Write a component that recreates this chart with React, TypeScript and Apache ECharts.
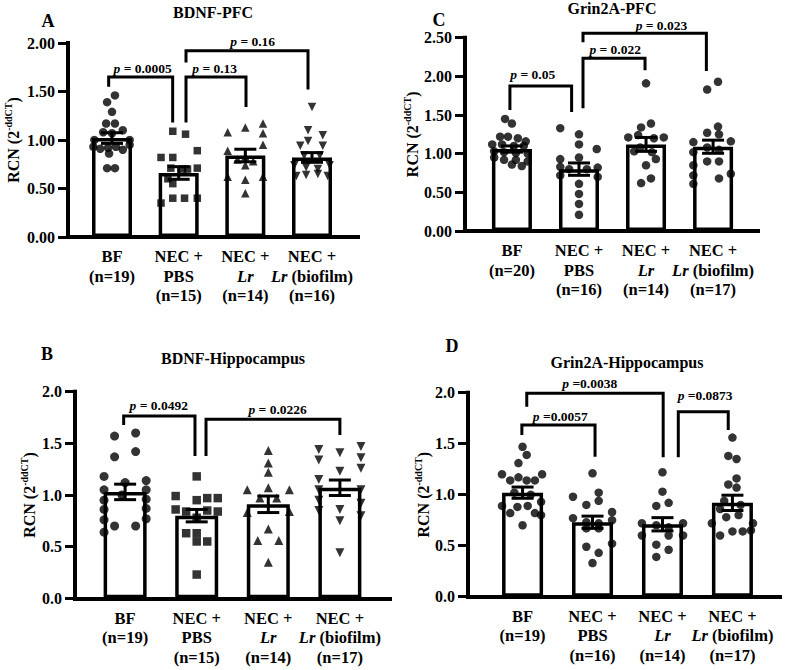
import React, { useEffect, useRef } from "react";
import * as echarts from "echarts";

const FONT = '"Liberation Serif", "Times New Roman", Times, serif';

// ---------------- DATA ----------------
// x-axis group labels (index 0..3)
const groupNames = ["BF", "NEC + PBS", "NEC + Lr", "NEC + Lr (biofilm)"];
const yTicksTwoDec = ["0.00", "0.50", "1.00", "1.50", "2.00", "2.50"];
const yTicksOneDec = ["0.0", "0.5", "1.0", "1.5", "2.0"];

// Panel A: BDNF-PFC
const A_n = [19, 15, 14, 16];
const A_mean = [1.02, 0.66, 0.84, 0.82];
const A_sem = [0.055, 0.065, 0.065, 0.05];
const A_BF = [1.46, 1.39, 1.29, 1.17, 1.17, 1.1, 1.08, 1.07, 1.0, 1.0, 0.93, 0.91, 0.92, 0.93, 0.9, 0.95, 0.86, 0.71, 0.71];
const A_BF_jit = [3, -5, 0, -6, 3, 11, -9, 0, -18, 18, -19, -12, -4, 4, 11, 18, -3, -5, 3];
const A_PBS = [1.09, 1.06, 0.89, 0.82, 0.82, 0.71, 0.7, 0.7, 0.71, 0.6, 0.55, 0.35, 0.4, 0.4, 0.4];
const A_PBS_jit = [-6, 7, 19, -18, -6, -8, 4, 9, 19, -11, -6, -18, -6, 6, 19];
const A_LR = [1.17, 1.13, 1.08, 1.07, 0.95, 0.89, 0.83, 0.78, 0.74, 0.62, 0.62, 0.59, 0.45, 0.8];
const A_LR_jit = [18, 0, -18, 18, 18, -18, 0, 8, 0, -18, 18, 0, 0, -8];
const A_BIO = [1.34, 1.1, 1.05, 0.99, 0.94, 0.94, 0.84, 0.84, 0.74, 0.72, 0.7, 0.74, 0.63, 0.64, 0.65, 0.63];
const A_BIO_jit = [0, -4, 11, -4, -12, 11, -8, 8, -18, -6, 6, 18, -16, -6, 6, 16];
// brackets: [x1, x2, yTop, yLeftEnd, yRightEnd, labelX, labelY]
const A_brackets = [
  [-0.05, 0.91, 1.65, 1.55, 1.18, 0.46, 1.74],
  [1.11, 2.01, 1.65, 1.18, 1.34, 1.54, 1.74],
  [1.11, 2.94, 1.92, 1.8, 1.52, 2.11, 2.02],
];
const A_pLabels = ["p = 0.0005", "p = 0.13", "p = 0.16"];

// Panel B: BDNF-Hippocampus
const B_n = [19, 15, 14, 17];
const B_mean = [1.03, 0.8, 0.91, 1.07];
const B_sem = [0.075, 0.06, 0.08, 0.075];
const B_BF = [1.57, 1.6, 1.37, 1.42, 1.18, 1.14, 1.12, 1.0, 1.05, 1.05, 0.95, 0.96, 0.86, 0.87, 0.76, 0.77, 0.7, 0.7, 0.64];
const B_BF_jit = [-10, 10, -10, 10, -20, 20, 0, -3, -20, 20, -20, 20, -20, 20, -20, 20, -10, 10, -20];
const B_PBS = [1.18, 0.99, 0.95, 0.97, 0.97, 0.86, 0.84, 0.85, 0.84, 0.78, 0.63, 0.63, 0.55, 0.55, 0.23];
const B_PBS_jit = [0, -20, 0, 10, 20, -20, -10, 10, 20, 0, -10, 0, 0, 10, 0];
const B_LR = [1.43, 1.31, 1.22, 1.05, 1.07, 1.05, 0.97, 0.97, 0.83, 0.84, 0.67, 0.56, 0.56, 0.35];
const B_LR_jit = [0, 0, 0, -20, 0, 20, -8, 8, -20, 20, 0, -10, 10, 0];
const B_BIO = [1.44, 1.41, 1.47, 1.34, 1.36, 1.23, 1.26, 1.15, 1.05, 1.05, 0.95, 0.92, 0.85, 0.8, 0.86, 0.75, 0.44];
const B_BIO_jit = [-20, 0, 20, -20, 20, 0, 20, -20, -20, 20, -20, 20, -20, 20, 0, 0, 0];
const B_brackets = [
  [-0.02, 0.976, 1.765, 1.678, 1.378, 0.47, 1.87],
  [1.13, 3.0, 1.733, 1.378, 1.58, 2.13, 1.83],
];
const B_pLabels = ["p = 0.0492", "p = 0.0226"];

// Panel C: Grin2A-PFC
const C_n = [20, 16, 14, 17];
const C_mean = [1.06, 0.8, 1.12, 1.09];
const C_sem = [0.04, 0.08, 0.09, 0.085];
const C_BF = [1.45, 1.39, 1.22, 1.22, 1.2, 1.16, 1.12, 1.12, 1.1, 1.1, 1.03, 1.02, 1.01, 1.0, 0.95, 0.92, 0.92, 0.9, 0.86, 0.84];
const C_BF_jit = [-7, 0, -12, -4, 6, 14, -20, -10, 2, 12, -18, -8, 4, 16, -18, -8, 4, 16, 0, 10];
const C_PBS = [1.33, 1.25, 1.12, 1.06, 0.93, 0.95, 0.83, 0.8, 0.8, 0.82, 0.72, 0.7, 0.61, 0.48, 0.35, 0.21];
const C_PBS_jit = [-19, 0, 0, 18, -19, 0, -19, -10, 8, 19, -19, 19, 0, 0, 0, 0];
const C_LR = [1.91, 1.39, 1.34, 1.21, 1.24, 1.2, 1.21, 1.08, 1.02, 1.03, 0.93, 0.85, 0.68, 0.62];
const C_LR_jit = [0, 5, -5, -18, -8, 8, 18, -6, 6, -12, 10, 0, 5, -5];
const C_BIO = [1.83, 1.93, 1.35, 1.27, 1.25, 1.15, 1.16, 1.08, 1.05, 1.02, 0.9, 0.9, 0.85, 0.74, 0.72, 0.68, 0.61];
const C_BIO_jit = [-6, 5, 5, -6, 6, -20, 18, -6, 6, -20, -6, 6, -20, 18, -20, 6, -20];
const C_brackets = [
  [-0.03, 0.89, 1.876, 1.565, 1.54, 0.31, 2.03],
  [1.06, 1.985, 2.234, 1.587, 2.08, 1.54, 2.35],
  [1.06, 2.9, 2.557, 2.44, 2.07, 2.23, 2.66],
];
const C_pLabels = ["p = 0.05", "p = 0.022", "p = 0.023"];

// Panel D: Grin2A-Hippocampus
const D_n = [19, 16, 14, 17];
const D_mean = [1.02, 0.73, 0.71, 0.92];
const D_sem = [0.055, 0.06, 0.065, 0.075];
const D_BF = [1.47, 1.39, 1.31, 1.2, 1.2, 1.14, 1.17, 1.14, 1.14, 1.02, 1.0, 0.89, 0.88, 0.89, 0.93, 0.82, 0.82, 0.8, 0.7];
const D_BF_jit = [0, 4, -4, -20, 19, -12, -4, 4, 12, -8, 8, -20, -5, 5, 18, -12, 12, 18, 0];
const D_PBS = [1.21, 0.98, 1.02, 0.9, 0.94, 0.83, 0.77, 0.73, 0.72, 0.75, 0.67, 0.67, 0.52, 0.49, 0.43, 0.33];
const D_PBS_jit = [0, -19, 6, -6, 6, 19, -19, -6, 6, 19, -6, 6, 19, -6, 6, 0];
const D_LR = [1.22, 1.03, 0.89, 0.92, 0.72, 0.72, 0.7, 0.68, 0.6, 0.6, 0.6, 0.51, 0.46, 0.39];
const D_LR_jit = [0, 0, -6, 6, -20, 20, -6, 6, -20, 6, 20, -6, 6, -6];
const D_BIO = [1.56, 1.38, 1.35, 1.16, 1.1, 1.07, 0.94, 0.9, 0.86, 0.8, 0.78, 0.72, 0.72, 0.6, 0.64, 0.64, 0.65];
const D_BIO_jit = [0, -4, 4, 4, -4, 4, -8, 8, -12, 6, -6, -20, 20, -12, 0, 10, 18];
const D_brackets = [
  [0.06, 2.01, 1.994, 1.863, 1.367, 0.96, 2.09],
  [-0.01, 1.036, 1.683, 1.585, 1.373, 0.54, 1.77],
  [2.226, 2.94, 1.814, 1.367, 1.634, 2.61, 1.97],
];
const D_pLabels = ["p =0.0038", "p =0.0057", "p =0.0873"];

// ---------------- LAYOUT / STYLE ----------------
const JIT = 68; // jitter offsets are in pixels at ~68 px per group

type Panel = {
  letter: string;
  title: string;
  letterPos: [number, number];
  titlePos: [number, number];
  grid: { left: number; top: number; width: number; height: number };
  xMin: number;
  xMax: number;
  yMax: number;
  ticks: string[];
  nameGap: number;
  barWidth: number;
  n: number[];
  mean: number[];
  sem: number[];
  groups: { y: number[]; j: number[] }[];
  symbols: string[];
  rotate: number[];
  sizes: number[];
  brackets: number[][];
  pLabels: string[];
};

const panels: Panel[] = [
  {
    letter: "A", title: "BDNF-PFC", letterPos: [48, 20.5], titlePos: [213, 12],
    grid: { left: 68, top: 43, width: 290, height: 194 },
    xMin: -0.66, xMax: 3.69, yMax: 2, ticks: yTicksTwoDec, nameGap: 47, barWidth: 40,
    n: A_n, mean: A_mean, sem: A_sem,
    groups: [{ y: A_BF, j: A_BF_jit }, { y: A_PBS, j: A_PBS_jit }, { y: A_LR, j: A_LR_jit }, { y: A_BIO, j: A_BIO_jit }],
    symbols: ["circle", "rect", "triangle", "triangle"], rotate: [0, 0, 0, 180], sizes: [8.5, 7.5, 8.5, 8.5],
    brackets: A_brackets, pLabels: A_pLabels,
  },
  {
    letter: "C", title: "Grin2A-PFC", letterPos: [439, 20], titlePos: [612, 8.5],
    grid: { left: 465, top: 37.7, width: 293, height: 193.3 },
    xMin: -0.7, xMax: 3.67, yMax: 2.5, ticks: yTicksTwoDec, nameGap: 43, barWidth: 40,
    n: C_n, mean: C_mean, sem: C_sem,
    groups: [{ y: C_BF, j: C_BF_jit }, { y: C_PBS, j: C_PBS_jit }, { y: C_LR, j: C_LR_jit }, { y: C_BIO, j: C_BIO_jit }],
    symbols: ["circle", "circle", "circle", "circle"], rotate: [0, 0, 0, 0], sizes: [8.5, 8.5, 8.5, 8.5],
    brackets: C_brackets, pLabels: C_pLabels,
  },
  {
    letter: "B", title: "BDNF-Hippocampus", letterPos: [47, 354], titlePos: [233, 358],
    grid: { left: 75, top: 391.7, width: 315, height: 206.6 },
    xMin: -0.7, xMax: 3.7, yMax: 2, ticks: yTicksOneDec, nameGap: 38, barWidth: 43,
    n: B_n, mean: B_mean, sem: B_sem,
    groups: [{ y: B_BF, j: B_BF_jit }, { y: B_PBS, j: B_PBS_jit }, { y: B_LR, j: B_LR_jit }, { y: B_BIO, j: B_BIO_jit }],
    symbols: ["circle", "rect", "triangle", "triangle"], rotate: [0, 0, 0, 180], sizes: [9, 8.5, 9, 9],
    brackets: B_brackets, pLabels: B_pLabels,
  },
  {
    letter: "D", title: "Grin2A-Hippocampus", letterPos: [452, 346], titlePos: [627, 362],
    grid: { left: 468, top: 392.7, width: 312, height: 204 },
    xMin: -0.78, xMax: 3.68, yMax: 2, ticks: yTicksOneDec, nameGap: 34, barWidth: 41,
    n: D_n, mean: D_mean, sem: D_sem,
    groups: [{ y: D_BF, j: D_BF_jit }, { y: D_PBS, j: D_PBS_jit }, { y: D_LR, j: D_LR_jit }, { y: D_BIO, j: D_BIO_jit }],
    symbols: ["circle", "circle", "circle", "circle"], rotate: [0, 0, 0, 0], sizes: [8.5, 8.5, 8.5, 8.5],
    brackets: D_brackets, pLabels: D_pLabels,
  },
];

const xLabel = (i: number, n: number) => {
  const name = groupNames[i];
  if (i === 0) return `${name}\n(n=${n})`;
  const rest = name.replace("NEC + ", "");
  const second = rest.startsWith("Lr") ? `{i|Lr}${rest.slice(2)}` : rest;
  return `NEC +\n${second}\n(n=${n})`;
};

const errRender = (capW: number) => (params: any, api: any) => {
  const x = api.value(0);
  const m = api.value(1);
  const s = api.value(2);
  const t = api.coord([x, m + s]);
  const b = api.coord([x, m - s]);
  const h = capW / 2;
  const st = { stroke: "#000", lineWidth: 3 };
  return {
    type: "group",
    children: [
      { type: "line", shape: { x1: t[0], y1: t[1], x2: b[0], y2: b[1] }, style: st },
      { type: "line", shape: { x1: t[0] - h, y1: t[1], x2: t[0] + h, y2: t[1] }, style: st },
      { type: "line", shape: { x1: b[0] - h, y1: b[1], x2: b[0] + h, y2: b[1] }, style: st },
    ],
  };
};

const bracketRender = (labels: string[]) => (params: any, api: any) => {
  const v = [0, 1, 2, 3, 4, 5, 6].map((k) => api.value(k));
  const p1 = api.coord([v[0], v[3]]);
  const p2 = api.coord([v[0], v[2]]);
  const p3 = api.coord([v[1], v[2]]);
  const p4 = api.coord([v[1], v[4]]);
  const lp = api.coord([v[5], v[6]]);
  const lab = labels[params.dataIndex];
  return {
    type: "group",
    children: [
      { type: "polyline", shape: { points: [p1, p2, p3, p4] }, style: { stroke: "#000", lineWidth: 3, fill: "none" } },
      {
        type: "text",
        x: lp[0],
        y: lp[1],
        style: {
          text: "{i|p}" + lab.slice(1),
          fill: "#000",
          fontSize: 13.5,
          fontWeight: "bold",
          fontFamily: FONT,
          align: "center",
          verticalAlign: "middle",
          rich: {
            i: { fontStyle: "italic", fontWeight: "bold", fontSize: 13.5, fontFamily: FONT, fill: "#000", color: "#000" },
          },
        },
      },
    ],
  };
};

function buildOption() {
  const grid: any[] = [];
  const xAxis: any[] = [];
  const yAxis: any[] = [];
  const series: any[] = [];
  const graphic: any[] = [];

  panels.forEach((P, pi) => {
    grid.push({ ...P.grid, containLabel: false, outerBoundsMode: "none" });
    xAxis.push({
      type: "value",
      gridIndex: pi,
      min: P.xMin,
      max: P.xMax,
      splitLine: { show: false },
      axisTick: { show: false },
      axisLine: { show: true, onZero: false, lineStyle: { color: "#000", width: 4, cap: "square" } },
      axisLabel: {
        show: true,
        customValues: [0, 1, 2, 3],
        formatter: (val: number) => xLabel(Math.round(val), P.n[Math.round(val)]),
        color: "#000",
        fontFamily: FONT,
        fontWeight: "bold",
        fontSize: 16.5,
        lineHeight: 19.5,
        margin: 10,
        align: "center",
        rich: {
          i: { fontStyle: "italic", fontWeight: "bold", fontSize: 16.5, fontFamily: FONT, lineHeight: 19.5, color: "#000" },
        },
      },
    });
    yAxis.push({
      type: "value",
      gridIndex: pi,
      min: 0,
      max: P.yMax,
      interval: 0.5,
      splitLine: { show: false },
      axisLine: { show: true, onZero: false, lineStyle: { color: "#000", width: 4, cap: "square" } },
      axisTick: { show: true, length: 10, lineStyle: { color: "#000", width: 3 } },
      axisLabel: {
        color: "#000",
        fontFamily: FONT,
        fontWeight: "bold",
        fontSize: 16,
        margin: 13,
        formatter: (val: number) => P.ticks[Math.round(val / 0.5)],
      },
      name: "{m|RCN (2}{s|-ddCT}{m|)}",
      nameLocation: "middle",
      nameGap: P.nameGap,
      nameTextStyle: {
        color: "#000",
        fontFamily: FONT,
        fontWeight: "bold",
        fontSize: 16,
        rich: {
          m: { fontFamily: FONT, fontWeight: "bold", fontSize: 16, lineHeight: 18, verticalAlign: "bottom", color: "#000" },
          s: { fontFamily: FONT, fontWeight: "bold", fontSize: 10, lineHeight: 10, verticalAlign: "top", color: "#000" },
        },
      },
    });

    series.push({
      type: "bar",
      xAxisIndex: pi,
      yAxisIndex: pi,
      barWidth: P.barWidth,
      data: P.mean.map((m, i) => [i, m]),
      itemStyle: { color: "#fff", borderColor: "#000", borderWidth: 3.5 },
      z: 2,
      silent: true,
    });
    P.groups.forEach((g, gi) => {
      series.push({
        type: "scatter",
        xAxisIndex: pi,
        yAxisIndex: pi,
        symbol: P.symbols[gi],
        symbolRotate: P.rotate[gi],
        symbolSize: P.sizes[gi],
        itemStyle: { color: "#000" },
        data: g.y.map((v, k) => [gi + g.j[k] / JIT, v]),
        z: 3,
        silent: true,
      });
    });
    series.push({
      type: "custom",
      xAxisIndex: pi,
      yAxisIndex: pi,
      data: P.mean.map((m, i) => [i, m, P.sem[i]]),
      renderItem: errRender(22),
      z: 4,
      silent: true,
    });
    series.push({
      type: "custom",
      xAxisIndex: pi,
      yAxisIndex: pi,
      data: P.brackets,
      renderItem: bracketRender(P.pLabels),
      z: 5,
      silent: true,
      clip: false,
    });

    graphic.push({
      type: "text",
      x: P.letterPos[0],
      y: P.letterPos[1],
      style: { text: P.letter, fill: "#000", fontFamily: FONT, fontWeight: "bold", fontSize: 18, align: "center", verticalAlign: "middle" },
    });
    graphic.push({
      type: "text",
      x: P.titlePos[0],
      y: P.titlePos[1],
      style: { text: P.title, fill: "#000", fontFamily: FONT, fontWeight: "bold", fontSize: 16, align: "center", verticalAlign: "middle" },
    });
  });

  return {
    animation: false,
    backgroundColor: "#fff",
    textStyle: { fontFamily: FONT },
    grid,
    xAxis,
    yAxis,
    series,
    graphic,
  };
}

export default function App() {
  const ref = useRef<HTMLDivElement>(null);
  useEffect(() => {
    if (!ref.current) return;
    const chart = echarts.init(ref.current, undefined, { renderer: "svg" });
    chart.setOption(buildOption() as any);
    return () => chart.dispose();
  }, []);
  return <div ref={ref} style={{ position: "absolute", left: 0, top: 0, width: 790, height: 670 }} />;
}
